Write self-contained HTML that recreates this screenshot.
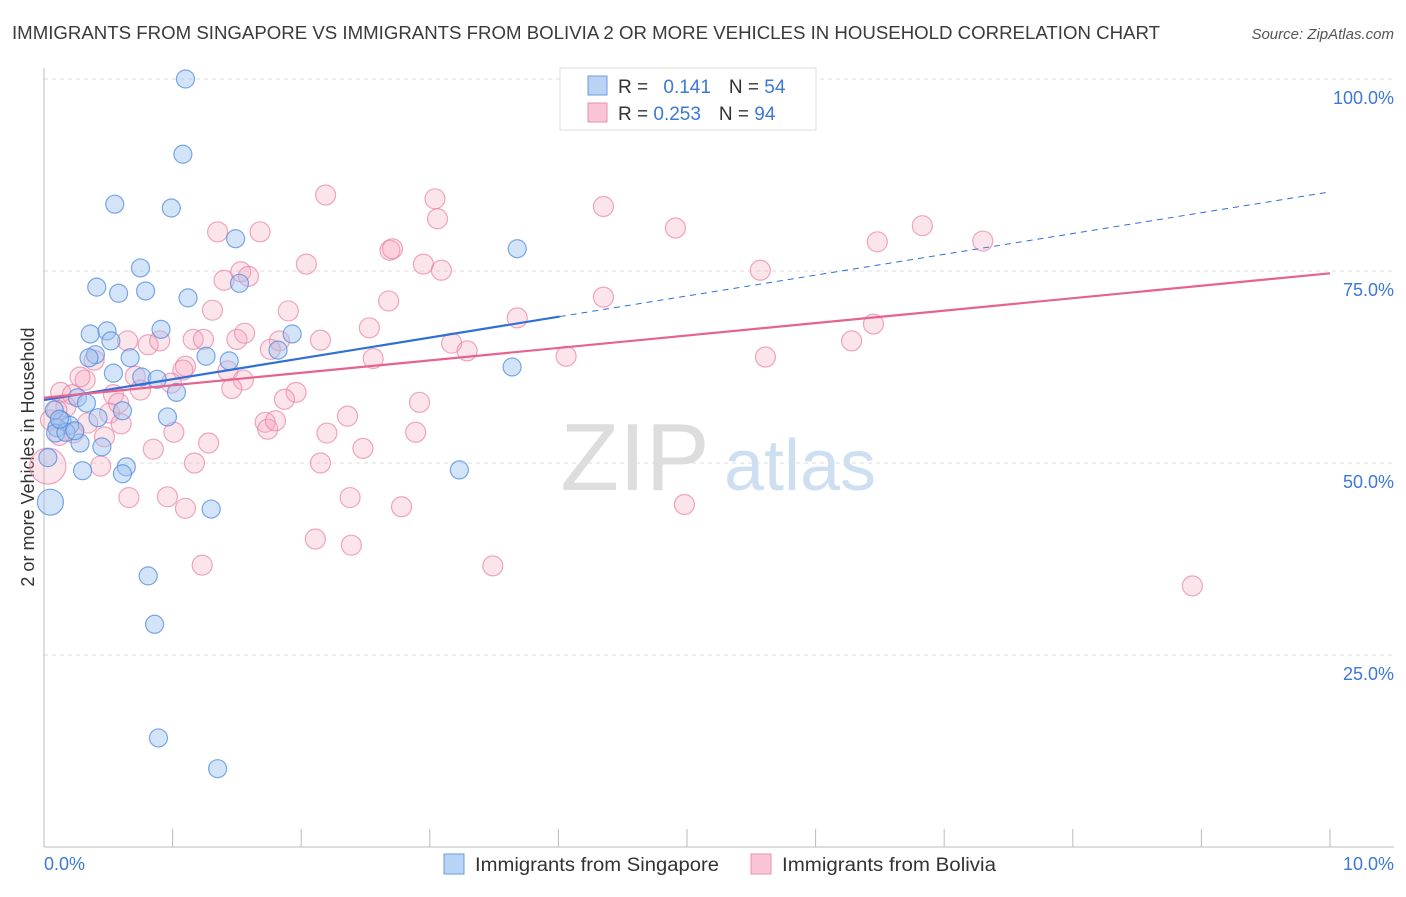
<!DOCTYPE html>
<html><head><meta charset="utf-8">
<style>
body{margin:0;background:#fff;font-family:"Liberation Sans",sans-serif;}
svg text{font-family:"Liberation Sans",sans-serif;}
</style></head>
<body>
<svg id="chart" width="1406" height="892" xmlns="http://www.w3.org/2000/svg">
<text x="12" y="39" font-size="18" fill="#3a3a3a" textLength="1148" lengthAdjust="spacingAndGlyphs">IMMIGRANTS FROM SINGAPORE VS IMMIGRANTS FROM BOLIVIA 2 OR MORE VEHICLES IN HOUSEHOLD CORRELATION CHART</text>
<text x="1394" y="39" font-size="15" fill="#555" text-anchor="end" font-style="italic">Source: ZipAtlas.com</text>
<text transform="translate(34,457) rotate(-90)" font-size="18" fill="#333" text-anchor="middle">2 or more Vehicles in Household</text>
<g>
<text x="635" y="490" font-size="96" fill="#ddd" font-family="Liberation Serif" text-anchor="middle">ZIP</text>
<text x="800" y="490" font-size="72" fill="#cfdff2" text-anchor="middle">atlas</text>
</g>
<g id="grid"></g>
<g id="axes"></g>
<g id="pts"></g>
<g id="lines"></g>
<g>
<rect x="560" y="68" width="256" height="62" fill="#fff" stroke="#ddd"/>
<rect x="588" y="76" width="19" height="19" fill="#b9d3f5" stroke="#6a9de0"/>
<rect x="588" y="103" width="19" height="19" fill="#f9c4d5" stroke="#e890aa"/>
<text x="618" y="93" font-size="19" fill="#333">R = <tspan fill="#3b78d8" dx="10">0.141</tspan><tspan dx="18" fill="#333">N = </tspan><tspan fill="#3b78d8">54</tspan></text>
<text x="618" y="120" font-size="19" fill="#333">R = <tspan fill="#3b78d8">0.253</tspan><tspan dx="18" fill="#333">N = </tspan><tspan fill="#3b78d8">94</tspan></text>
</g>
<g>
<rect x="444" y="854" width="20" height="20" fill="#b9d3f5" stroke="#6a9de0"/>
<text x="475" y="871" font-size="19" fill="#333" textLength="244" lengthAdjust="spacingAndGlyphs">Immigrants from Singapore</text>
<rect x="751" y="854" width="20" height="20" fill="#f9c4d5" stroke="#e890aa"/>
<text x="782" y="871" font-size="19" fill="#333" textLength="214" lengthAdjust="spacingAndGlyphs">Immigrants from Bolivia</text>
</g>
</svg>
<script>
const yTicks=[25,50,75,100];
const yTickLabels=["25.0%","50.0%","75.0%","100.0%"];
const xTicks=[0,1,2,3,4,5,6,7,8,9,10];
const xEndLabels=["0.0%","10.0%"];
const sgX=[1.10,1.08,0.55,0.99,1.49,3.68,0.75,0.41,0.58,0.79,1.52,1.12,0.36,0.49,0.91,0.52,1.93,0.40,0.35,0.67,1.26,1.44,1.82,0.54,0.76,0.88,1.03,3.64,0.26,0.33,0.61,0.96,0.42,0.14,0.20,0.10,0.09,0.17,0.28,0.45,0.64,0.61,0.30,3.23,0.05,1.30,0.81,0.86,0.89,1.35,0.08,0.03,0.12,0.24];
const sgY=[100.0,90.2,83.7,83.2,79.2,77.9,75.4,72.9,72.1,72.4,73.4,71.5,66.8,67.2,67.4,65.9,66.8,64.1,63.7,63.7,63.9,63.3,64.7,61.7,61.2,60.9,59.2,62.5,58.5,57.8,56.8,56.0,55.9,55.5,54.9,54.6,53.9,54.0,52.6,52.1,49.5,48.6,49.0,49.1,44.9,44.0,35.3,29.0,14.2,10.2,56.9,50.7,55.7,54.2];
const boX=[2.19,3.04,4.35,3.06,4.91,6.83,1.35,1.68,6.48,7.30,2.69,2.71,2.04,2.95,3.09,5.57,1.53,1.40,1.59,2.68,4.35,1.31,1.90,3.68,2.53,6.45,0.65,0.81,0.90,1.16,1.24,1.50,1.83,1.76,3.17,6.28,2.56,3.29,4.06,5.61,0.39,1.10,0.32,0.71,1.08,1.43,0.28,1.55,0.99,1.46,0.75,1.96,0.54,1.87,0.13,0.17,2.92,0.51,0.60,0.05,1.72,2.36,0.23,1.01,1.74,1.80,2.20,2.89,0.47,1.28,0.85,2.48,2.15,1.17,0.44,0.03,0.66,0.96,2.38,4.98,1.10,2.78,2.11,2.39,1.23,3.49,8.93,0.10,0.22,0.34,0.58,1.56,2.15,0.12];
const boY=[84.9,84.4,83.4,81.8,80.6,80.9,80.1,80.1,78.8,78.9,77.7,77.9,75.9,75.9,75.1,75.1,74.9,73.8,74.3,71.1,71.6,69.9,69.8,68.9,67.6,68.1,65.9,65.4,65.9,66.1,66.1,66.1,65.9,64.8,65.6,65.9,63.6,64.6,63.9,63.8,63.4,62.6,60.8,61.3,62.1,62.0,61.2,60.8,60.4,59.7,59.5,59.2,58.9,58.3,59.2,57.3,57.9,56.5,55.1,55.6,55.3,56.1,53.9,54.0,54.4,55.5,53.9,54.0,53.4,52.6,51.8,51.9,50.0,50.0,49.6,49.6,45.5,45.6,45.5,44.6,44.1,44.3,40.1,39.3,36.7,36.6,34.0,56.9,58.9,55.2,57.8,66.9,66.0,53.6];
const sgLine=[58.2,85.3]; const sgSolidEnd=4.01;
const boLine=[58.5,74.7];
const big={sg:44,bo:75};
const NS='http://www.w3.org/2000/svg';
const X0=44,X1=1330,Y0=847,Y1=79;
const sx=v=>X0+(v/10)*(X1-X0);
const sy=v=>Y0-(v/100)*(Y0-Y1);
function mk(tag,attrs,parent){const e=document.createElementNS(NS,tag);for(const k in attrs)e.setAttribute(k,attrs[k]);parent.appendChild(e);return e;}
const grid=document.getElementById('grid'),axes=document.getElementById('axes'),pts=document.getElementById('pts'),lines=document.getElementById('lines');
yTicks.forEach((t,i)=>{
 const l=mk('line',{x1:X0,x2:1394,y1:sy(t),y2:sy(t),stroke:'#ddd','stroke-dasharray':'4,4'},grid);
 
 
 const tx=mk('text',{x:1394,y:sy(t)+25,'font-size':18,fill:'#3b78d8','text-anchor':'end'},axes);
 tx.textContent=yTickLabels[i];
 
 
});
const ya=mk('line',{x1:X0,x2:X0,y1:68,y2:Y0,stroke:'#bbb'},axes);


const xa=mk('line',{x1:X0,x2:1394,y1:Y0,y2:Y0,stroke:'#bbb'},axes);


xTicks.forEach(t=>{
 const l=mk('line',{x1:sx(t),x2:sx(t),y1:829,y2:Y0,stroke:'#bbb'},axes);
 
 
});
const xl0=mk('text',{x:44,y:870,'font-size':18,fill:'#3b78d8'},axes);xl0.textContent=xEndLabels[0];


const xl1=mk('text',{x:1394,y:870,'font-size':18,fill:'#3b78d8','text-anchor':'end'},axes);xl1.textContent=xEndLabels[1];


boX.forEach((v,i)=>{
 const r=(i===big.bo)?18:10;
 const c=mk('circle',{cx:sx(v),cy:sy(boY[i]),r:r,fill:'rgba(245,165,190,0.3)',stroke:'rgba(232,130,165,0.7)','stroke-width':1.2},pts);
 
 
});
sgX.forEach((v,i)=>{
 const r=(i===big.sg)?13:9;
 const c=mk('circle',{cx:sx(v),cy:sy(sgY[i]),r:r,fill:'rgba(160,196,240,0.45)',stroke:'rgba(80,140,220,0.75)','stroke-width':1.2},pts);
 
 
});
const lf=x=>sgLine[0]+(sgLine[1]-sgLine[0])*x/10;
const l1=mk('line',{x1:sx(0),y1:sy(lf(0)),x2:sx(sgSolidEnd),y2:sy(lf(sgSolidEnd)),stroke:'#2f6fd6','stroke-width':2.2},lines);


const l2=mk('line',{x1:sx(sgSolidEnd),y1:sy(lf(sgSolidEnd)),x2:sx(10),y2:sy(lf(10)),stroke:'#2f6fd6','stroke-width':1,'stroke-dasharray':'6,5'},lines);


const l3=mk('line',{x1:sx(0),y1:sy(boLine[0]),x2:sx(10),y2:sy(boLine[1]),stroke:'#e5638f','stroke-width':2.2},lines);


</script>
</body></html>
